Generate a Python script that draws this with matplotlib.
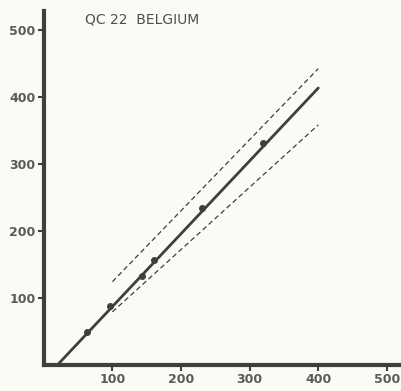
import matplotlib.pyplot as plt

# measured samples
obs_x = [63, 96, 143, 160, 230, 320]
obs_y = [49, 87, 133, 157, 234, 331]

# regression line and its confidence limits
fit_x = [20, 400]
fit_y = [0, 413]
upper_x = [100, 400]
upper_y = [124, 442]
lower_x = [100, 400]
lower_y = [79, 358]

ticks = [100, 200, 300, 400, 500]

ink = '#3f3f3f'
bg = '#f8fcf4'

fig = plt.figure(figsize=(4.02, 3.91), dpi=100, facecolor=bg)
ax = fig.add_axes([0.109, 0.067, 0.891, 0.905], facecolor=bg)

ax.plot(fit_x, fit_y, color=ink, lw=2.0, solid_capstyle='round')
ax.plot(upper_x, upper_y, color=ink, lw=0.9, ls=(0, (4, 2.5)))
ax.plot(lower_x, lower_y, color=ink, lw=0.9, ls=(0, (4, 2.5)))
ax.plot(obs_x, obs_y, 'o', color=ink, ms=4)

ax.set_xlim(0, 522)
ax.set_ylim(0, 528)
ax.set_xticks(ticks)
ax.set_yticks(ticks)

for side in ['top', 'right']:
    ax.spines[side].set_visible(False)
for side in ['left', 'bottom']:
    ax.spines[side].set_linewidth(3)
    ax.spines[side].set_color(ink)

ax.tick_params(length=4, width=1.5, color=ink, labelsize=9,
               labelcolor='#5a5a5a', pad=2)
for lab in ax.get_xticklabels() + ax.get_yticklabels():
    lab.set_fontweight('bold')

ax.text(0.114, 0.995, 'QC 22  BELGIUM', transform=ax.transAxes,
        fontsize=10, color='#505050', ha='left', va='top')

fig.savefig('out.png', dpi=100, facecolor=bg)
